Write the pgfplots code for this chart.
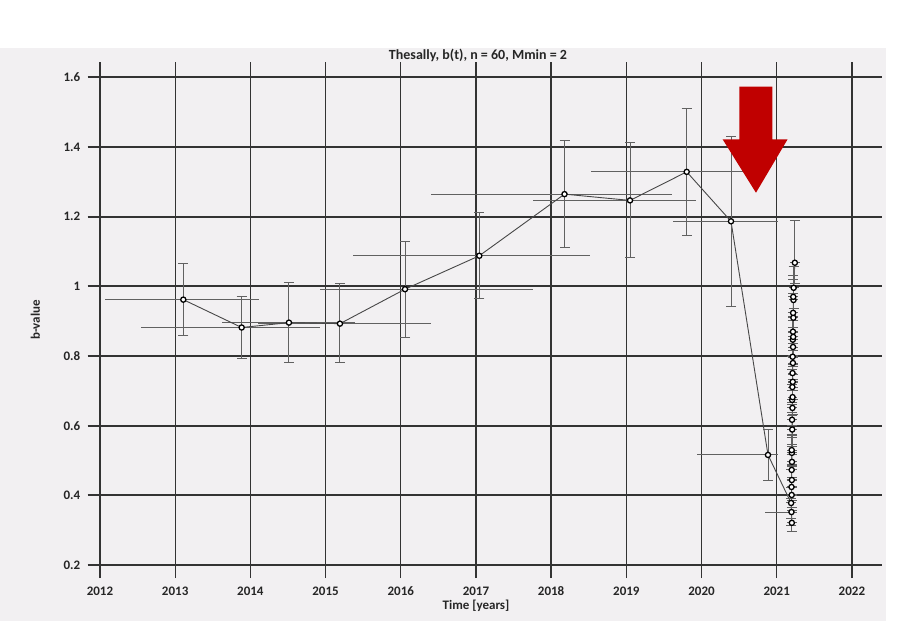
\documentclass[border=0pt]{standalone}
\usepackage{pgfplots}
\pgfplotsset{compat=1.18}
\usepackage{pgfplotstable}
\usepackage{fontspec}
\setmainfont{Carlito}
\definecolor{bg}{HTML}{F2F0F2}
\definecolor{arrowred}{HTML}{C00000}

% b(t): time, b-value, x error minus/plus, y error minus/plus
\pgfplotstableread{
x y xm xp ym yp
2013.108 0.962 1.042 1.006 0.104 0.104
2013.884 0.882 1.343 1.042 0.088 0.089
2014.513 0.896 0.893 0.877 0.114 0.115
2015.191 0.893 1.091 1.209 0.112 0.114
2016.056 0.992 1.130 1.702 0.139 0.136
2017.044 1.088 1.684 1.472 0.124 0.125
2018.177 1.265 1.777 1.429 0.152 0.153
2019.048 1.247 1.294 0.878 0.163 0.165
2019.802 1.329 1.277 1.041 0.183 0.181
2020.391 1.187 0.775 0.625 0.245 0.243
2020.883 0.516 0.944 0.133 0.072 0.074
2021.190 0.378 0.065 0.065 0.045 0.045
2021.200 0.321 0.065 0.065 0.025 0.045
2021.195 0.352 0.352 0.080 0.040 0.040
2021.198 0.401 0.065 0.065 0.045 0.045
2021.196 0.424 0.060 0.070 0.040 0.050
2021.200 0.444 0.065 0.065 0.045 0.045
2021.198 0.473 0.070 0.060 0.050 0.045
2021.202 0.496 0.065 0.065 0.045 0.050
2021.200 0.522 0.065 0.065 0.040 0.045
2021.198 0.530 0.060 0.070 0.045 0.045
2021.205 0.589 0.065 0.065 0.050 0.050
2021.203 0.617 0.065 0.065 0.045 0.045
2021.208 0.651 0.070 0.060 0.050 0.050
2021.204 0.674 0.065 0.065 0.045 0.045
2021.210 0.682 0.065 0.065 0.050 0.050
2021.207 0.711 0.060 0.070 0.045 0.050
2021.212 0.726 0.065 0.065 0.050 0.050
2021.209 0.751 0.065 0.065 0.050 0.050
2021.214 0.780 0.065 0.065 0.055 0.055
2021.211 0.798 0.070 0.060 0.050 0.050
2021.216 0.826 0.065 0.065 0.055 0.055
2021.213 0.847 0.065 0.065 0.050 0.055
2021.218 0.855 0.065 0.065 0.055 0.055
2021.215 0.870 0.060 0.070 0.055 0.055
2021.220 0.910 0.065 0.065 0.055 0.060
2021.217 0.924 0.065 0.065 0.055 0.055
2021.222 0.961 0.065 0.065 0.060 0.060
2021.219 0.970 0.065 0.065 0.055 0.060
2021.224 0.996 0.065 0.065 0.060 0.060
2021.240 1.068 0.065 0.065 0.060 0.122
}\bt

\begin{document}
\begin{tikzpicture}[x=1pt,y=1pt]
\path[use as bounding box, fill=white] (0pt,0pt) rectangle (910pt,621pt);
\fill[bg] (0pt,0pt) rectangle (886pt,573pt);
\begin{axis}[
  at={(87.5pt,43pt)}, anchor=south west,
  scale only axis, width=794.5pt, height=516pt,
  xmin=2011.834, xmax=2022.399, ymin=0.1626, ymax=1.6445,
  axis line style={draw=none},
  major tick length=0pt,
  xtick={2012,...,2022},
  ytick={0.2,0.4,0.6,0.8,1,1.2,1.4,1.6},
  grid=major,
  major x grid style={line width=1.3pt, black!80},
  major y grid style={line width=2pt, black!80},
  /pgf/number format/assume math mode=true,
  /pgf/number format/1000 sep={},
  every tick label/.append style={font=\fontsize{13}{15}\selectfont\bfseries, text=black!85, inner sep=0pt},
  xticklabel style={anchor=center, yshift=-13pt},
  yticklabel style={anchor=east, xshift=-7pt},
  title={Thesally, b(t), n = 60, Mmin = 2},
  title style={at={(axis description cs:0.4915,1.002)}, anchor=center,
    font=\fontsize{14}{16}\selectfont\bfseries, text=black!85},
  xlabel={Time [years]},
  xlabel style={at={(axis description cs:0.489,-0.0543)}, anchor=center,
    font=\fontsize{13}{15}\selectfont\bfseries, text=black!85},
  ylabel={b-value},
  ylabel style={at={(axis description cs:-0.0655,0.5)}, anchor=center,
    font=\fontsize{13}{15}\selectfont\bfseries, text=black!85},
]
% horizontal (time window) bars
\addplot[draw=none, mark=none, forget plot,
  error bars/.cd, x dir=both, x explicit, error mark=none,
  error bar style={draw=black!62, line width=1pt}]
  table[x=x, y=y, x error minus=xm, x error plus=xp] {\bt};
% b-value series with its vertical uncertainty bars
\addplot[black!72, line width=0.9pt, mark=*, mark size=2.6pt,
  mark options={fill=white, draw=black, line width=1.3pt, solid},
  error bars/.cd, y dir=both, y explicit, error mark=-,
  error bar style={draw=black!62, line width=1pt},
  error mark options={rotate=90, draw=black!62, line width=1pt, mark size=5pt}]
  table[x=x, y=y, y error minus=ym, y error plus=yp] {\bt};
% red arrow annotation
\fill[arrowred] (axis cs:2020.501,1.5736) -- (axis cs:2020.940,1.5736)
  -- (axis cs:2020.940,1.4226) -- (axis cs:2021.144,1.4226)
  -- (axis cs:2020.723,1.269) -- (axis cs:2020.279,1.4226)
  -- (axis cs:2020.501,1.4226) -- cycle;
\end{axis}
\end{tikzpicture}
\end{document}
